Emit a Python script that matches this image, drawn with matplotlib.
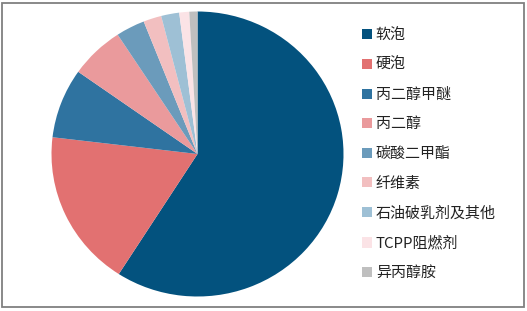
import matplotlib
matplotlib.use("Agg")
import matplotlib.pyplot as plt
from matplotlib.patches import Patch, Rectangle

plt.rcParams['font.family'] = ['Noto Sans CJK SC', 'DejaVu Sans']

categories = ["软泡", "硬泡", "丙二醇甲醚", "丙二醇", "碳酸二甲酯", "纤维素",
              "石油破乳剂及其他", "TCPP阻燃剂", "异丙醇胺"]
shares = [59.0, 17.8, 7.9, 6.0, 3.2, 2.0, 2.0, 1.1, 0.9]
colors = ["#03527e", "#e27171", "#2f73a0", "#ea9a9c", "#6b9bbb", "#f2bfc0",
          "#9ec0d5", "#fbe3e6", "#bfbfbf"]

W, H = 527, 311
fig = plt.figure(figsize=(W / 100, H / 100), dpi=100)

cx, cy, rx, ry = 197.5, 154, 146, 142.5
ax = fig.add_axes([(cx - rx) / W, (H - cy - ry) / H, 2 * rx / W, 2 * ry / H])
ax.pie(shares, colors=colors, startangle=90, counterclock=False, radius=1,
       wedgeprops=dict(linewidth=0))
ax.set_aspect('auto')
ax.set_xlim(-1, 1)
ax.set_ylim(-1, 1)
ax.axis('off')

handles = [Patch(facecolor=c, edgecolor='none') for c in colors]
leg = fig.legend(handles, categories, loc='upper left',
                 bbox_to_anchor=(361.5 / W, 1 - 28.5 / H), frameon=False,
                 fontsize=10.8, handlelength=0.67, handleheight=0.67,
                 handletextpad=0.28, labelspacing=1.035, borderpad=0,
                 borderaxespad=0)
for t in leg.get_texts():
    t.set_color("#222222")

fig.patches.append(Rectangle((2 / W, 1 - 306.5 / H), 522 / W, 304 / H,
                             transform=fig.transFigure, fill=False,
                             edgecolor="#808080", linewidth=1.3))

fig.savefig("out.png", dpi=100)
